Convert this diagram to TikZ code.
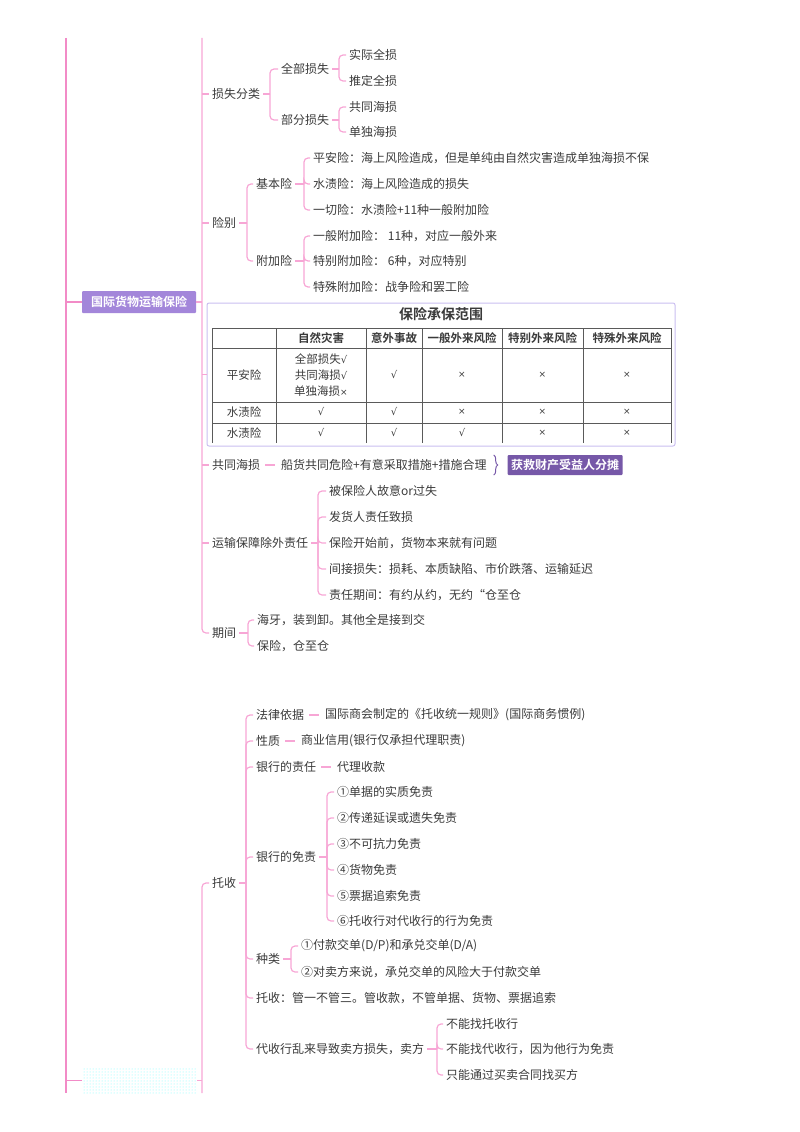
\documentclass[tikz,border=0pt]{standalone}
\usepackage{fontspec}
\setmainfont{Noto Sans CJK SC}[BoldFont={Noto Sans CJK SC Bold}]
\newfontfamily\symf{DejaVu Sans}
\usetikzlibrary{calc,patterns,decorations.pathreplacing}
\definecolor{txt}{HTML}{3A3A3A}
\definecolor{pk}{HTML}{F7A6D5}
\definecolor{pkmain}{HTML}{F28BC7}
\definecolor{rootfill}{HTML}{A386DA}
\definecolor{boxfill}{HTML}{7658A8}
\definecolor{tblborder}{HTML}{CABEF0}
\definecolor{gridc}{HTML}{5A5A5A}
\newcommand\ck{{\symf\fontsize{10}{12}\selectfont √}}
\newcommand\cx{{\symf\fontsize{9}{12}\selectfont ×}}
\newcommand\mmbr[3]{%
  \draw[br] (#1.east) -- (#2 |- #1.east);
  \foreach \c in {#3} {\draw[br] (#2 |- #1.east) |- (\c.west);}
}
\begin{document}
\begin{tikzpicture}[x=1pt,y=-1pt,
  t/.style={anchor=west,inner xsep=3pt,inner ysep=1pt,text=txt,font=\fontsize{12}{14}\selectfont},
  br/.style={draw=pk,line width=1.2pt,rounded corners=4pt},
  dashc/.style={draw=pk,line width=1.2pt,shorten <=2pt,shorten >=3pt},
  brm/.style={draw=pkmain,line width=1.8pt},
  rootbox/.style={fill=rootfill,text=white,font=\bfseries\fontsize{12}{14}\selectfont,minimum width=114pt,minimum height=22pt,inner sep=0pt,rounded corners=1pt},
  hlbox/.style={fill=boxfill,text=white,font=\bfseries\fontsize{12}{14}\selectfont,minimum width=115pt,minimum height=20pt,inner sep=0pt,rounded corners=1pt},
  tc/.style={text=txt,font=\fontsize{11.5}{16}\selectfont,inner sep=0pt,align=center},
  th/.style={text=txt,font=\bfseries\fontsize{11.5}{14}\selectfont,inner sep=0pt},
  gl/.style={draw=gridc,line width=0.9pt}
]
\useasboundingbox (0,0) rectangle (800,1132);

% ---------- main vertical lines ----------
\coordinate (t1) at (66,38);
\coordinate (e1) at (66,1093);
\coordinate (t2) at (202,38);
\coordinate (e2) at (202,1093);

% ---------- roots ----------
\node[rootbox] (r1) at (139,302) {国际货物运输保险};
\node[minimum width=115pt,minimum height=26pt,inner sep=0pt] (r2) at (139.5,1080.5) {};
\fill[pattern=dots,pattern color=cyan!55] (r2.south west) rectangle (r2.north east);

\draw[brm] (t1) -- (e1);
\draw[brm] (t1 |- r1.west) -- (r1.west);
\draw[brm] (t1 |- r2.west) -- (r2.west);

% ---------- level 1 of root 1 ----------
\node[t] (a1) at (209,94) {损失分类};
\node[t] (a2) at (209,223) {险别};
\node[draw=tblborder,line width=1pt,rounded corners=2pt,minimum width=468pt,minimum height=143pt,inner sep=0pt] (tbl) at (441,374.5) {};
\node[t] (a4) at (209,465) {共同海损};
\node[t] (a5) at (209,543) {运输保障除外责任};
\node[t] (a6) at (209,633) {期间};

\draw[br] (t2) |- (a6.west);
\foreach \n in {a1,a2,tbl,a4,a5} {\draw[br] (t2 |- \n.west) -- (\n.west);}
\draw[br] (r1.east) -- (t2 |- r1.east);

% 损失分类
\node[t] (a11) at (278,69) {全部损失};
\node[t] (a12) at (278,120) {部分损失};
\node[t] (a111) at (346,55) {实际全损};
\node[t] (a112) at (346,81) {推定全损};
\node[t] (a121) at (346,107) {共同海损};
\node[t] (a122) at (346,132) {单独海损};
\mmbr{a1}{270,0}{a11,a12}
\mmbr{a11}{339,0}{a111,a112}
\mmbr{a12}{339,0}{a121,a122}

% 险别
\node[t] (a21) at (253,184) {基本险};
\node[t] (a22) at (253,261) {附加险};
\node[t] (a211) at (310,158) {平安险：海上风险造成，但是单纯由自然灾害造成单独海损不保};
\node[t] (a212) at (310,184) {水渍险：海上风险造成的损失};
\node[t] (a213) at (310,210) {一切险：水渍险+11种一般附加险};
\node[t] (a221) at (310,236) {一般附加险：\ 11种，对应一般外来};
\node[t] (a222) at (310,261) {特别附加险：\ 6种，对应特别};
\node[t] (a223) at (310,287) {特殊附加险：战争险和罢工险};
\mmbr{a2}{247,0}{a21,a22}
\mmbr{a21}{304,0}{a211,a212,a213}
\mmbr{a22}{304,0}{a221,a222,a223}

% ---------- table ----------
\node[text=txt,font=\bfseries\fontsize{14}{16}\selectfont,inner sep=0pt] (ttl) at (441,314) {保险承保范围};
\foreach \yy in {328,348,402,423} {\draw[gl] (212,\yy) -- (671,\yy);}
\foreach \xx in {212,276,366.5,422,502,583,671} {\draw[gl] (\xx,328) -- (\xx,443);}
\node[th] at (321,338) {自然灾害};
\node[th] at (394,338) {意外事故};
\node[th] at (462,338) {一般外来风险};
\node[th] at (542.5,338) {特别外来风险};
\node[th] at (627,338) {特殊外来风险};
\node[tc] at (244,375) {平安险};
\node[tc] at (321,375) {全部损失\ck\\共同海损\ck\\单独海损\cx};
\node[tc] at (394,375) {\ck};
\node[tc] at (462,375) {\cx};
\node[tc] at (542.5,375) {\cx};
\node[tc] at (627,375) {\cx};
\node[tc] at (244,412) {水渍险};
\node[tc] at (321,412) {\ck};
\node[tc] at (394,412) {\ck};
\node[tc] at (462,412) {\cx};
\node[tc] at (542.5,412) {\cx};
\node[tc] at (627,412) {\cx};
\node[tc] at (244,433) {水渍险};
\node[tc] at (321,433) {\ck};
\node[tc] at (394,433) {\ck};
\node[tc] at (462,433) {\ck};
\node[tc] at (542.5,433) {\cx};
\node[tc] at (627,433) {\cx};

% 共同海损
\node[t] (a41) at (278,465) {船货共同危险+有意采取措施+措施合理};
\node[hlbox] (a42) at (565,465) {获救财产受益人分摊};
\draw[dashc] (a4.east) -- (a41.west);
\draw[decorate,decoration={brace,amplitude=4pt},draw=boxfill,line width=1pt]
  ($(a41.east)+(4,-10)$) -- ($(a41.east)+(4,10)$);

% 运输保障除外责任
\node[t] (a51) at (326,491) {被保险人故意or过失};
\node[t] (a52) at (326,517) {发货人责任致损};
\node[t] (a53) at (326,543) {保险开始前，货物本来就有问题};
\node[t] (a54) at (326,569) {间接损失：损耗、本质缺陷、市价跌落、运输延迟};
\node[t] (a55) at (326,595) {责任期间：有约从约，无约“仓至仓};
\mmbr{a5}{318,0}{a51,a52,a53,a54,a55}

% 期间
\node[t] (a61) at (254,620) {海牙，装到卸。其他全是接到交};
\node[t] (a62) at (254,646) {保险，仓至仓};
\mmbr{a6}{248,0}{a61,a62}

% ---------- root 2 ----------
\node[t] (b1) at (209,883) {托收};
\draw[br] (e2) |- (b1.west);
\draw[br] (r2.east) -- (e2 |- r2.east);

\node[t] (b11) at (253,715) {法律依据};
\node[t] (b12) at (253,741) {性质};
\node[t] (b13) at (253,767) {银行的责任};
\node[t] (b14) at (253,857) {银行的免责};
\node[t] (b15) at (253,959) {种类};
\node[t] (b16) at (253,998) {托收：管一不管三。管收款，不管单据、货物、票据追索};
\node[t] (b17) at (253,1049) {代收行乱来导致卖方损失，卖方};
\mmbr{b1}{246,0}{b11,b12,b13,b14,b15,b16,b17}

\node[t] (b11a) at (322,715) {国际商会制定的《托收统一规则》(国际商务惯例)};
\node[t] (b12a) at (298,741) {商业信用(银行仅承担代理职责)};
\node[t] (b13a) at (334,767) {代理收款};
\draw[dashc] (b11.east) -- (b11a.west);
\draw[dashc] (b12.east) -- (b12a.west);
\draw[dashc] (b13.east) -- (b13a.west);

\node[t] (b141) at (334,792) {①单据的实质免责};
\node[t] (b142) at (334,818) {②传递延误或遗失免责};
\node[t] (b143) at (334,844) {③不可抗力免责};
\node[t] (b144) at (334,870) {④货物免责};
\node[t] (b145) at (334,896) {⑤票据追索免责};
\node[t] (b146) at (334,921) {⑥托收行对代收行的行为免责};
\mmbr{b14}{327,0}{b141,b142,b143,b144,b145,b146}

\node[t] (b151) at (298,946) {①付款交单(D/P)和承兑交单(D/A)};
\node[t] (b152) at (298,972) {②对卖方来说，承兑交单的风险大于付款交单};
\mmbr{b15}{291,0}{b151,b152}

\node[t] (b171) at (443,1024) {不能找托收行};
\node[t] (b172) at (443,1049) {不能找代收行，因为他行为免责};
\node[t] (b173) at (443,1075) {只能通过买卖合同找买方};
\mmbr{b17}{437,0}{b171,b172,b173}
\end{tikzpicture}
\end{document}
